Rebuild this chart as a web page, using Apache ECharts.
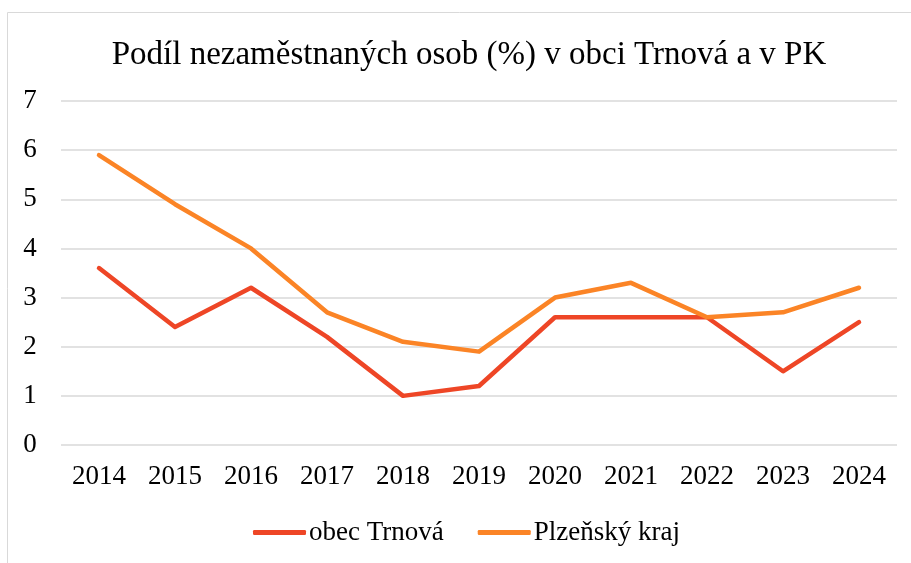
<!DOCTYPE html>
<html>
<head>
<meta charset="utf-8">
<script src="https://cdn.jsdelivr.net/npm/echarts@6/dist/echarts.min.js"></script>
<style>
  html, body { margin: 0; padding: 0; background: #fff; }
  #chart { width: 911px; height: 563px; }
</style>
</head>
<body>
<div id="chart"></div>
<script>
const years = ['2014', '2015', '2016', '2017', '2018', '2019', '2020', '2021', '2022', '2023', '2024']
const trnova = [3.6, 2.4, 3.2, 2.2, 1.0, 1.2, 2.6, 2.6, 2.6, 1.5, 2.5]
const plzensky = [5.9, 4.9, 4.0, 2.7, 2.1, 1.9, 3.0, 3.3, 2.6, 2.7, 3.2]

const font = '"Liberation Serif", "Times New Roman", serif'

const chart = echarts.init(document.getElementById('chart'))
chart.setOption({
  animation: false,
  textStyle: { fontFamily: font },
  title: {
    text: 'Podíl nezaměstnaných osob (%) v obci Trnová a v PK',
    left: 464,
    textAlign: 'center',
    top: 34,
    textStyle: { fontFamily: font, fontSize: 33, fontWeight: 'normal', color: '#000' }
  },
  graphic: [{
    type: 'rect',
    shape: { x: 7.5, y: 12.5, width: 920, height: 600 },
    style: { fill: 'none', stroke: '#d9d9d9', lineWidth: 1 },
    silent: true
  }],
  legend: {
    top: 514,
    left: 248,
    itemWidth: 53,
    itemHeight: 5,
    itemGap: 34,
    icon: 'roundRect',
    textStyle: { fontFamily: font, fontSize: 27, color: '#000', padding: [0, 0, 0, -2] },
    data: ['obec Trnová', 'Plzeňský kraj']
  },
  grid: { left: 61, right: 14, top: 101, bottom: 118 },
  xAxis: {
    type: 'category',
    data: years,
    boundaryGap: true,
    axisLine: { show: false },
    axisTick: { show: false },
    axisLabel: { fontFamily: font, fontSize: 27, color: '#000', margin: 18 }
  },
  yAxis: {
    type: 'value',
    min: 0,
    max: 7,
    interval: 1,
    axisLine: { show: false },
    axisTick: { show: false },
    axisLabel: { fontFamily: font, fontSize: 27, color: '#000', margin: 31, align: 'center' },
    splitLine: { lineStyle: { color: '#d9d9d9', width: 1.5 } }
  },
  series: [
    {
      name: 'obec Trnová',
      type: 'line',
      data: trnova,
      symbol: 'none',
      lineStyle: { width: 4.5, color: '#ee4626', cap: 'round', join: 'round' },
      itemStyle: { color: '#ee4626' }
    },
    {
      name: 'Plzeňský kraj',
      type: 'line',
      data: plzensky,
      symbol: 'none',
      lineStyle: { width: 4.5, color: '#fb8426', cap: 'round', join: 'round' },
      itemStyle: { color: '#fb8426' }
    }
  ]
})
</script>
</body>
</html>
